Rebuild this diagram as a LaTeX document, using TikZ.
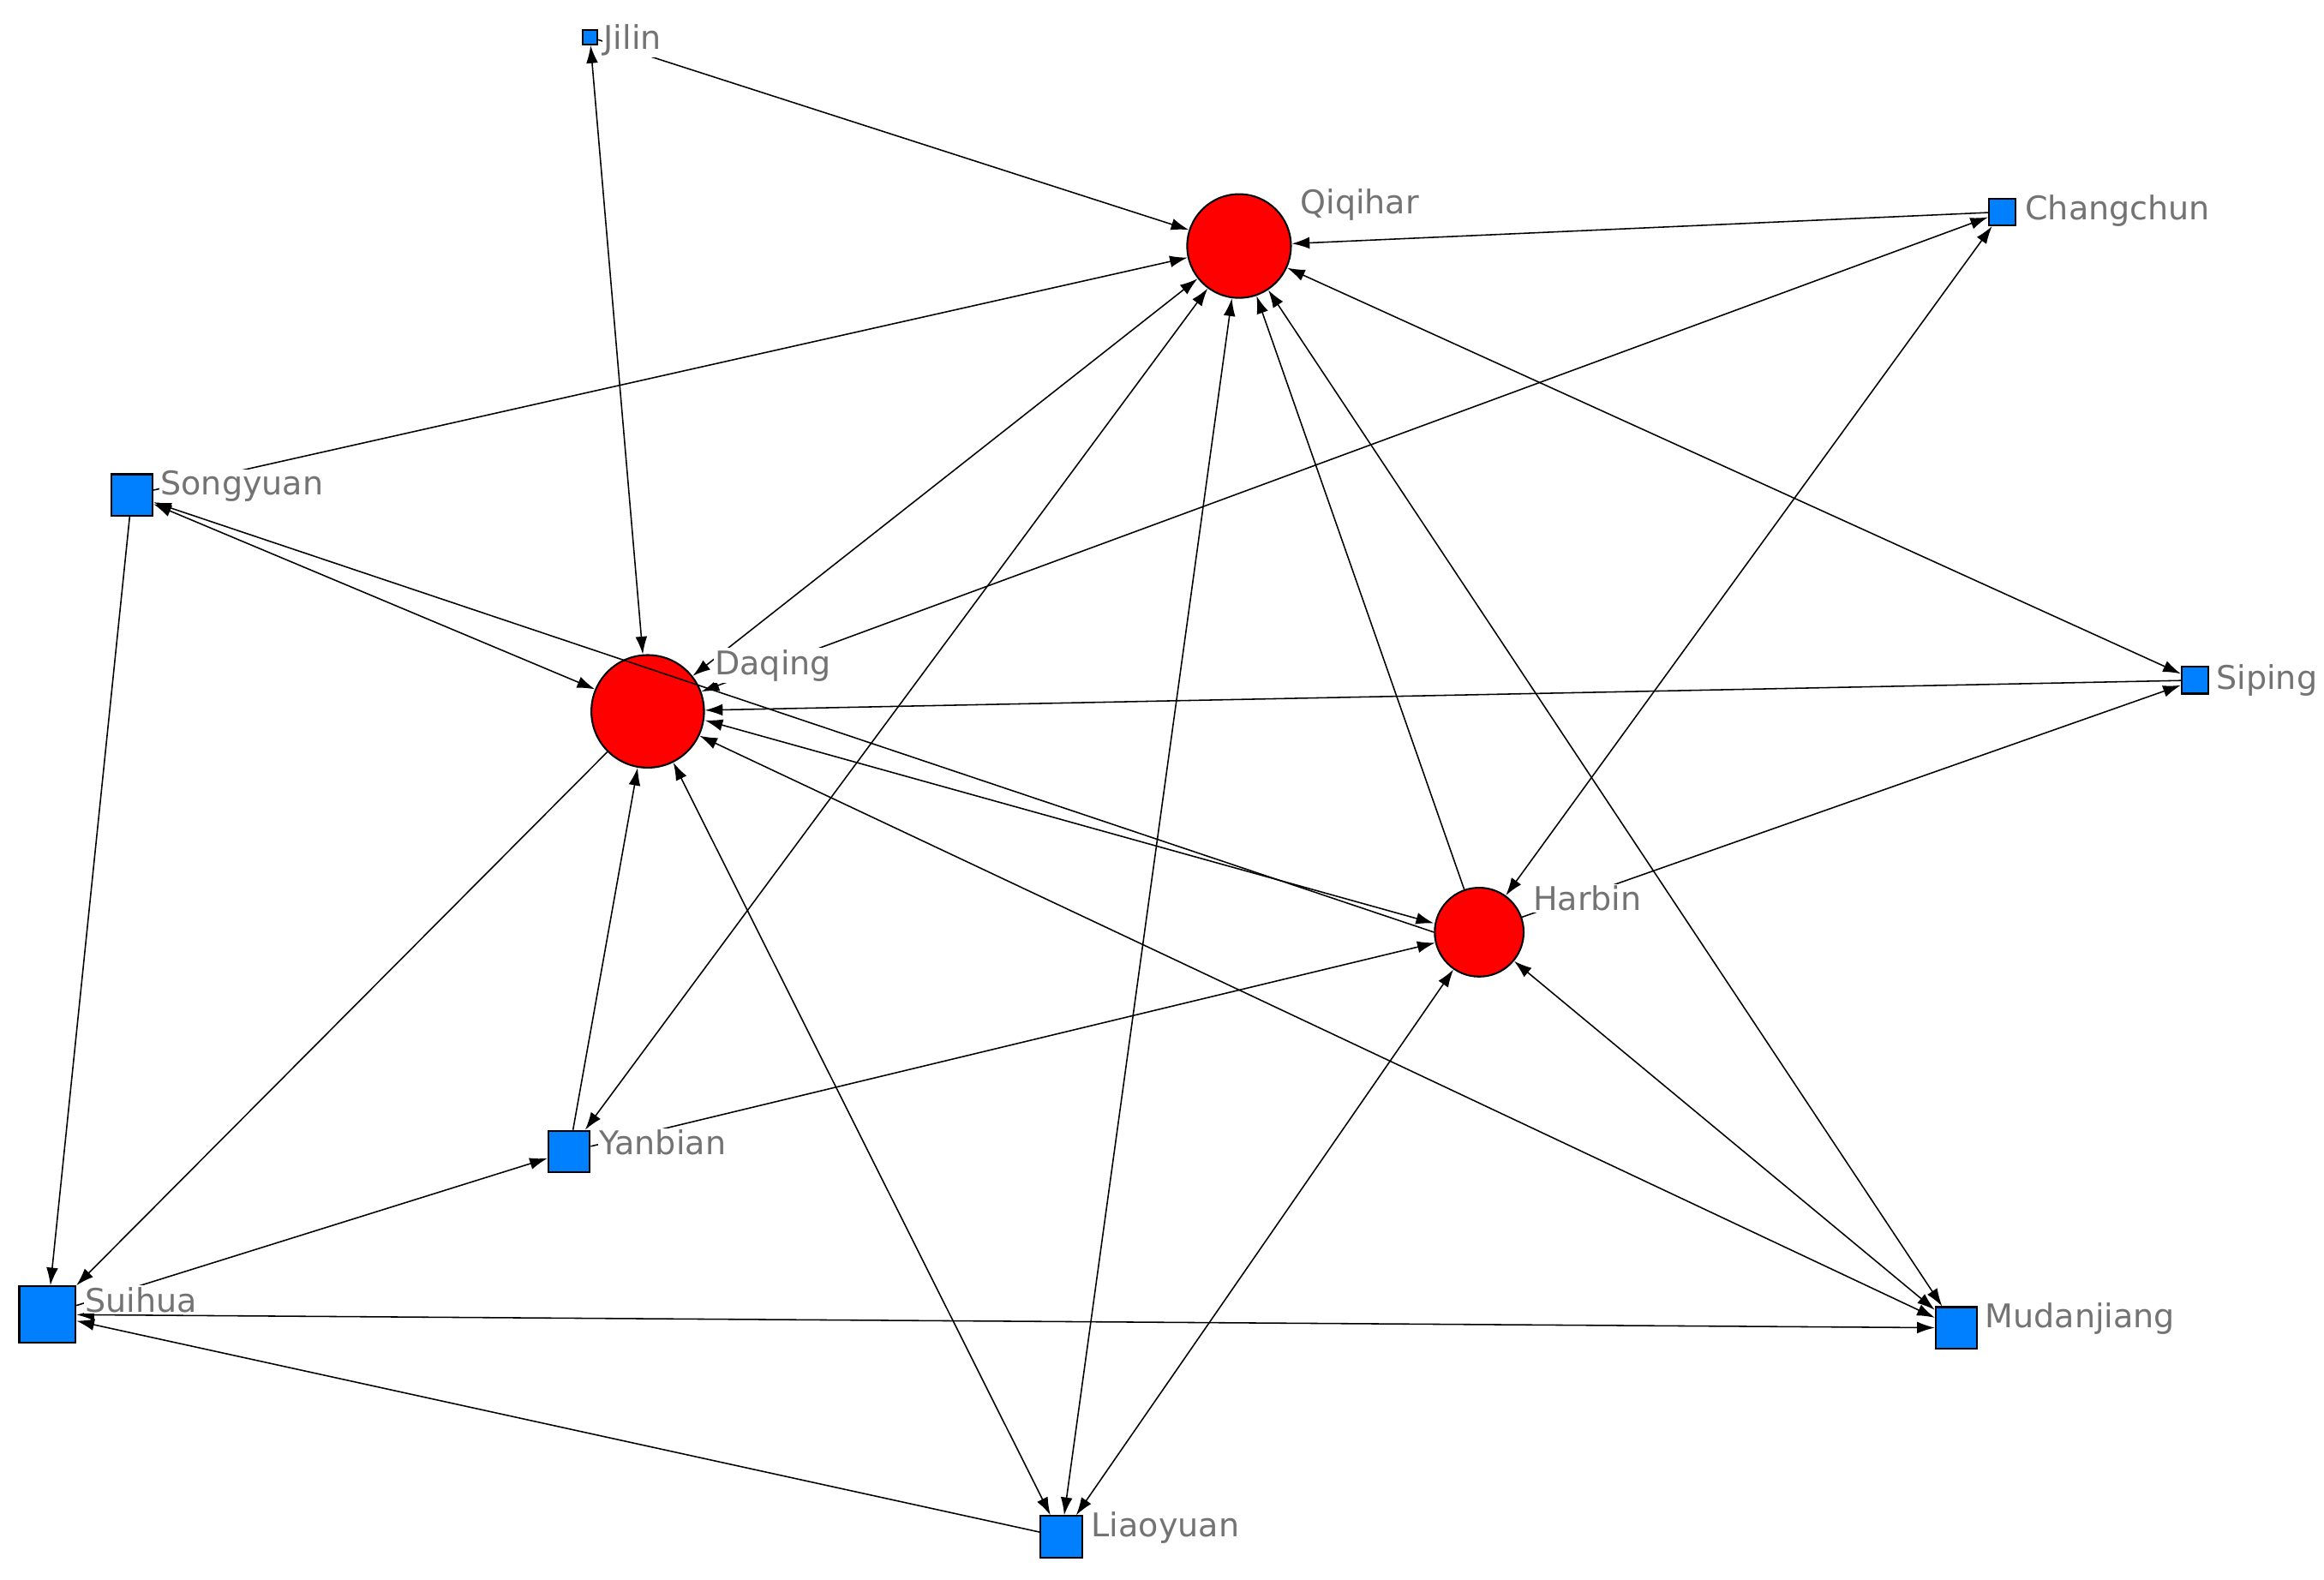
\documentclass[tikz,border=0pt]{standalone}
\usepackage{fontspec}
\setmainfont{DejaVu Sans}
\usetikzlibrary{arrows.meta}
\begin{document}
\begin{tikzpicture}[x=0.5pt,y=-0.5pt,
 sq/.style={draw=black,fill={rgb,255:red,0;green,128;blue,255},minimum size=#1,inner sep=0pt,line width=0.6pt},
 ci/.style={circle,draw=black,fill=red,minimum size=#1,inner sep=0pt,line width=0.6pt},
 lab/.style={anchor=west,text=gray!90!black,fill=white,inner sep=0.5pt,font=\fontsize{11}{13}\selectfont},
 e/.style={line width=0.45pt,-{Latex[length=6pt,width=4pt]}},
 b/.style={line width=0.45pt,{Latex[length=6pt,width=4pt]}-{Latex[length=6pt,width=4pt]}}]
\useasboundingbox (0,0) rectangle (1568,1066);
\node[sq=5pt] (jil) at (398,25) {};
\node[ci=35pt] (qiq) at (836,166) {};
\node[sq=9pt] (cha) at (1351,143) {};
\node[sq=14pt] (son) at (89,334) {};
\node[ci=38pt] (daq) at (437,480) {};
\node[sq=9pt] (sip) at (1481,459) {};
\node[ci=30pt] (har) at (998,629) {};
\node[sq=14pt] (yan) at (384,777) {};
\node[sq=19pt] (sui) at (32,887) {};
\node[sq=14pt] (mud) at (1320,896) {};
\node[sq=14pt] (lia) at (716,1037) {};
\draw[b] (jil) -- (daq);
\draw[e] (jil) -- (qiq);
\draw[e] (cha) -- (qiq);
\draw[e] (son) -- (qiq);
\draw[b] (son) -- (daq);
\draw[e] (har.west) -- (son);
\draw[b] ([yshift=-3pt]daq.east) -- ([yshift=3pt]har.west);
\draw[b] (daq) -- (qiq);
\draw[b] (daq) -- (cha);
\draw[e] (sip) -- (daq);
\draw[b] (qiq) -- (sip);
\draw[e] (har) -- (sip);
\draw[b] (har) -- (cha);
\draw[e] (har) -- (qiq);
\draw[b] (mud) -- (qiq);
\draw[b] (lia) -- (qiq);
\draw[b] (yan) -- (qiq);
\draw[e] (yan) -- (daq);
\draw[e] (yan) -- (har);
\draw[e] (sui) -- (yan);
\draw[e] (daq) -- (sui);
\draw[b] (sui) -- (mud);
\draw[e] (lia) -- (sui);
\draw[b] (daq) -- (lia);
\draw[b] (lia) -- (har);
\draw[b] (mud) -- (har);
\draw[b] (mud) -- (daq);
\draw[e] (son) -- (sui);
\node[lab] (ljil) at (406,27) {Jilin};
\node[lab] (lqiq) at (876,138) {Qiqihar};
\node[lab] (lcha) at (1365,142) {Changchun};
\node[lab] (lson) at (107,328) {Songyuan};
\node[lab] (ldaq) at (481,449) {Daqing};
\node[lab] (lsip) at (1494,459) {Siping};
\node[lab] (lhar) at (1033,606) {Harbin};
\node[lab] (lyan) at (403,771) {Yanbian};
\node[lab] (lsui) at (56,877) {Suihua};
\node[lab] (lmud) at (1338,890) {Mudanjiang};
\node[lab] (llia) at (735,1031) {Liaoyuan};
\end{tikzpicture}
\end{document}
